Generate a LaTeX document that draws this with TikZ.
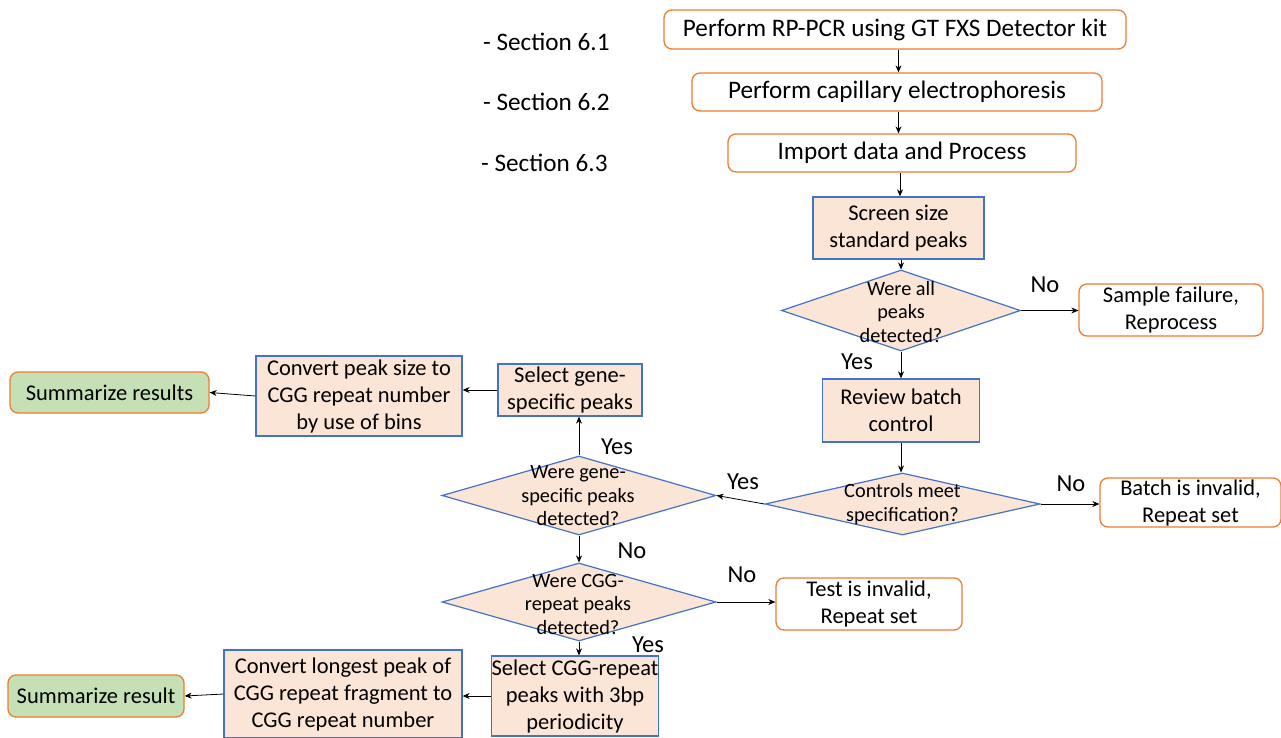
\documentclass[tikz,border=0pt]{standalone}
\usepackage{fontspec}
\setmainfont{Carlito}
\usetikzlibrary{shapes.geometric,arrows.meta}

\definecolor{boxblue}{HTML}{4472C4}
\definecolor{boxorange}{HTML}{ED7D31}
\definecolor{peach}{HTML}{FBE5D6}
\definecolor{sumgreen}{HTML}{C5E0B4}

\tikzset{
  txtbig/.style={font=\fontsize{25.2}{30}\selectfont},
  txtbox/.style={font=\fontsize{22.5}{27}\selectfont},
  txtdec/.style={font=\fontsize{20.3}{23.5}\selectfont},
  startbox/.style={draw=boxorange, fill=white, line width=1.3pt, rounded corners=8pt,
    inner sep=0pt, align=center, txtbig},
  endbox/.style={draw=boxorange, fill=white, line width=1.3pt, rounded corners=8pt,
    inner sep=0pt, align=center, txtbox},
  sumbox/.style={draw=boxorange, fill=sumgreen, line width=1.3pt, rounded corners=8pt,
    inner sep=0pt, align=center, txtbox},
  procbox/.style={draw=boxblue, fill=peach, line width=1.3pt,
    inner sep=0pt, align=center, txtbox},
  decbox/.style={diamond, draw=boxblue, fill=peach, line width=1.2pt, inner sep=0pt},
  dectext/.style={align=center, inner sep=0pt, txtdec},
  branch/.style={inner sep=0pt, font=\fontsize{24.5}{29}\selectfont},
  section/.style={inner sep=0pt, anchor=west, txtbig},
  arr/.style={-{Stealth[length=7pt,width=6pt]}, line width=0.8pt, black},
}

\begin{document}
\begin{tikzpicture}[x=1pt, y=-1pt]
\useasboundingbox (0,0) rectangle (1281,738);

% run steps along the top
\node[startbox, minimum width=462, minimum height=39] (b1) at (895,29.5) {Perform RP-PCR using GT FXS Detector kit};
\node[startbox, minimum width=410, minimum height=38] (b2) at (897,92) {Perform capillary electrophoresis};
\node[startbox, minimum width=348, minimum height=38] (b3) at (902,153) {Import data and Process};

\node[section] (s1) at (483,42) {- Section 6.1};
\node[section] (s2) at (483,102) {- Section 6.2};
\node[section] (s3) at (481,163) {- Section 6.3};

% size standard check
\node[procbox, minimum width=171, minimum height=62] (screen) at (898.5,228) {Screen size\\standard peaks};
\node[decbox, minimum width=239, minimum height=81] (d1) at (901,310.5) {};
\node[dectext] (d1t) at (901,312) {Were all\\peaks\\detected?};
\node[endbox, minimum width=184, minimum height=52] (sample) at (1171,310) {Sample failure,\\Reprocess};

% batch control check
\node[procbox, minimum width=157, minimum height=63] (review) at (901,410.5) {Review batch\\control};
\node[decbox, minimum width=275, minimum height=62] (d2) at (902.5,504) {};
\node[dectext] (d2t) at (d2) {Controls meet\\specification?};
\node[endbox, minimum width=181, minimum height=49] (batch) at (1190.5,502.5) {Batch is invalid,\\Repeat set};

% gene-specific branch
\node[decbox, minimum width=274, minimum height=79] (d3) at (579,495.5) {};
\node[dectext] (d3t) at (578,496) {Were gene-\\specific peaks\\detected?};
\node[procbox, minimum width=144, minimum height=52] (selgene) at (570,390) {Select gene-\\specific peaks};
\node[procbox, minimum width=206, minimum height=80] (convpeak) at (359,396) {Convert peak size to\\CGG repeat number\\by use of bins};
\node[sumbox, minimum width=199, minimum height=41] (summ1) at (109.5,392.5) {Summarize results};

% CGG-repeat branch
\node[decbox, minimum width=274, minimum height=78] (d4) at (579,602) {};
\node[dectext] (d4t) at (578,604) {Were CGG-\\repeat peaks\\detected?};
\node[endbox, minimum width=186, minimum height=52] (test) at (869,604) {Test is invalid,\\Repeat set};
\node[procbox, minimum width=162, minimum height=80] (selcgg) at (575,696) {Select CGG-repeat\\peaks with 3bp\\periodicity};
\node[procbox, minimum width=238, minimum height=88] (convlong) at (343,694) {Convert longest peak of\\CGG repeat fragment to\\CGG repeat number};
\node[sumbox, minimum width=176, minimum height=42] (summ2) at (96,696) {Summarize result};

% connectors
\draw[arr] (b1.south -| screen) -- (b2.north -| screen);
\draw[arr] (b2.south -| screen) -- (b3.north -| screen);
\draw[arr] (b3.south -| 900,0) -- (screen.north -| 900,0);
\draw[arr] (screen.south -| d1) -- (d1.north);
\draw[arr] (d1.east) -- (d1.east -| sample.west);
\draw[arr] (d1.south) -- (review.north);
\draw[arr] (review.south) -- (d2.north -| review);
\draw[arr] (d2.east) -- (d2.east -| batch.west);
\draw[arr] (d2.west) -- (d3.east);
\draw[arr] (d3.north) -- (d3.north |- selgene.south);
\draw[arr] (selgene.west) -- (selgene.west -| convpeak.east);
\draw[arr] (convpeak.west) -- (summ1.east);
\draw[arr] (d3.south) -- (d4.north);
\draw[arr] (d4.east) -- (d4.east -| test.west);
\draw[arr] (d4.south) -- (d4.south |- selcgg.north);
\draw[arr] (selcgg.west) -- (selcgg.west -| convlong.east);
\draw[arr] (convlong.west) -- (summ2.east);

% branch labels
\node[branch] (l1) at (1045,285) {No};
\node[branch] (l2) at (857,362) {Yes};
\node[branch] (l3) at (1071,484) {No};
\node[branch] (l4) at (743,482) {Yes};
\node[branch] (l5) at (617,447) {Yes};
\node[branch] (l6) at (632,551) {No};
\node[branch] (l7) at (742,575) {No};
\node[branch] (l8) at (648,645) {Yes};
\end{tikzpicture}
\end{document}
